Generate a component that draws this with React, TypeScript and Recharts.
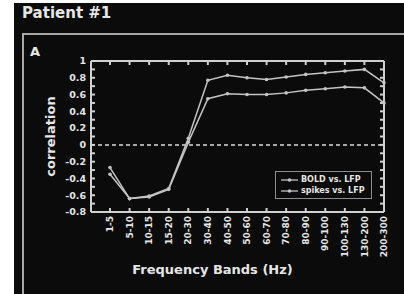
import { LineChart, Line, XAxis, YAxis, ReferenceLine, Legend, Label } from 'recharts';

// frequency bands (x categories)
const bands = ['1-5', '5-10', '10-15', '15-20', '20-30', '30-40', '40-50', '50-60', '60-70', '70-80', '80-90', '90-100', '100-130', '130-200', '200-300'];

// correlation values
const boldVsLfp = [-0.27, -0.64, -0.61, -0.52, 0.08, 0.77, 0.83, 0.80, 0.78, 0.81, 0.84, 0.86, 0.88, 0.90, 0.74];
const spikesVsLfp = [-0.35, -0.64, -0.62, -0.53, 0.03, 0.55, 0.61, 0.60, 0.60, 0.62, 0.65, 0.67, 0.69, 0.68, 0.50];

// y ticks (minor every 0.1, labelled every 0.2)
const yTicks = [-0.8, -0.7, -0.6, -0.5, -0.4, -0.3, -0.2, -0.1, 0, 0.1, 0.2, 0.3, 0.4, 0.5, 0.6, 0.7, 0.8, 0.9, 1];

const data = bands.map((band, i) => ({
    band,
    bold: boldVsLfp[i],
    spikes: spikesVsLfp[i],
}));

const FONT = '"DejaVu Sans", Verdana, sans-serif';
const FG = '#e6e6e6';
const AXIS = '#d0d0d0';
const LINE = '#c4c4c4';

const yLabel = (v: number) => {
    const k = Math.round(v * 10);
    if (k % 2 !== 0) return '';
    return String(k / 10);
};

const BandTick = (props: any) => {
    const { x, y, payload } = props;
    return (
        <text
            x={x}
            y={y}
            transform={`rotate(-90, ${x}, ${y})`}
            textAnchor="end"
            dy="0.35em"
            fill={FG}
            fontFamily={FONT}
            fontWeight="bold"
            fontSize={9}
        >
            {payload.value}
        </text>
    );
};

const LegendBox = () => {
    const rows = ['BOLD vs. LFP', 'spikes vs. LFP'];
    return (
        <div
            style={{
                width: 97,
                height: 28,
                boxSizing: 'border-box',
                border: '1.5px solid #8c8c8c',
                background: '#0b0b0b',
                padding: '2px 0 0 4px',
                fontFamily: FONT,
                fontWeight: 'bold',
                fontSize: 8,
                color: FG,
            }}
        >
            {rows.map((r) => (
                <div key={r} style={{ display: 'flex', alignItems: 'center', height: 11, whiteSpace: 'nowrap' }}>
                    <svg width={19} height={6} style={{ marginRight: 2 }}>
                        <line x1={1} y1={3} x2={18} y2={3} stroke={LINE} strokeWidth={1.3} />
                        <circle cx={9.5} cy={3} r={1.8} fill={LINE} />
                    </svg>
                    {r}
                </div>
            ))}
        </div>
    );
};

const App = () => {
    return (
        <div
            style={{
                position: 'absolute',
                left: 14,
                top: 3,
                width: 390,
                height: 291,
                background: '#0b0b0b',
                overflow: 'hidden',
                fontFamily: FONT,
            }}
        >
            <div style={{ position: 'absolute', left: 8, top: 3, fontSize: 15, lineHeight: 1, fontWeight: 'bold', color: FG }}>
                Patient #1
            </div>
            <div
                style={{
                    position: 'absolute',
                    left: 8,
                    top: 30,
                    width: 400,
                    height: 300,
                    border: '2px solid #a8a8a8',
                }}
            />
            <div style={{ position: 'absolute', left: 16, top: 42, fontSize: 13, lineHeight: 1, fontWeight: 'bold', color: FG }}>
                A
            </div>
            <div style={{ position: 'absolute', left: 0, top: 0 }}>
                <LineChart width={390} height={291} data={data} margin={{ top: 38, right: 0, left: 17, bottom: 22 }}>
                    <XAxis
                        dataKey="band"
                        height={60}
                        interval={0}
                        padding={{ left: 19, right: 0 }}
                        stroke={AXIS}
                        strokeWidth={2}
                        tickSize={-4}
                        tickMargin={8}
                        tick={<BandTick />}
                    >
                        <Label
                            value="Frequency Bands (Hz)"
                            position="insideBottom"
                            offset={-2}
                            dx={-25}
                            fill={FG}
                            fontFamily={FONT}
                            fontWeight="bold"
                            fontSize={13}
                        />
                    </XAxis>
                    <XAxis
                        xAxisId="top"
                        dataKey="band"
                        orientation="top"
                        height={20}
                        interval={0}
                        padding={{ left: 19, right: 0 }}
                        stroke={AXIS}
                        strokeWidth={2}
                        tickSize={-4}
                        tickFormatter={() => ''}
                    />
                    <YAxis
                        width={60}
                        domain={[-0.8, 1]}
                        ticks={yTicks}
                        interval={0}
                        stroke={AXIS}
                        strokeWidth={2}
                        tickSize={-4}
                        tickMargin={9}
                        tickFormatter={yLabel}
                        tick={{ fill: FG, fontFamily: FONT, fontWeight: 'bold', fontSize: 9.5 }}
                    >
                        <Label
                            value="correlation"
                            angle={-90}
                            position="insideLeft"
                            offset={19}
                            fill={FG}
                            fontFamily={FONT}
                            fontWeight="bold"
                            fontSize={13}
                            style={{ textAnchor: 'middle' }}
                        />
                    </YAxis>
                    <YAxis
                        yAxisId="right"
                        orientation="right"
                        width={20}
                        domain={[-0.8, 1]}
                        ticks={yTicks}
                        interval={0}
                        stroke={AXIS}
                        strokeWidth={2}
                        tickSize={-4}
                        tickFormatter={() => ''}
                    />
                    <ReferenceLine y={0} stroke="#dcdcdc" strokeWidth={1.5} strokeDasharray="4 3" />
                    {/* invisible series so the frame axes (top / right) get drawn */}
                    <Line
                        xAxisId="top"
                        yAxisId="right"
                        dataKey="bold"
                        stroke="none"
                        dot={false}
                        activeDot={false}
                        legendType="none"
                        isAnimationActive={false}
                    />
                    <Line
                        dataKey="bold"
                        name="BOLD vs. LFP"
                        type="linear"
                        stroke={LINE}
                        strokeWidth={1.5}
                        dot={{ r: 1.8, fill: LINE, stroke: 'none' }}
                        isAnimationActive={false}
                    />
                    <Line
                        dataKey="spikes"
                        name="spikes vs. LFP"
                        type="linear"
                        stroke={LINE}
                        strokeWidth={1.5}
                        dot={{ r: 1.8, fill: LINE, stroke: 'none' }}
                        isAnimationActive={false}
                    />
                    <Legend
                        layout="vertical"
                        align="center"
                        verticalAlign="middle"
                        content={<LegendBox />}
                        wrapperStyle={{ position: 'absolute', left: 261, top: 168, width: 'auto' }}
                    />
                </LineChart>
            </div>
        </div>
    );
};

export default App;
